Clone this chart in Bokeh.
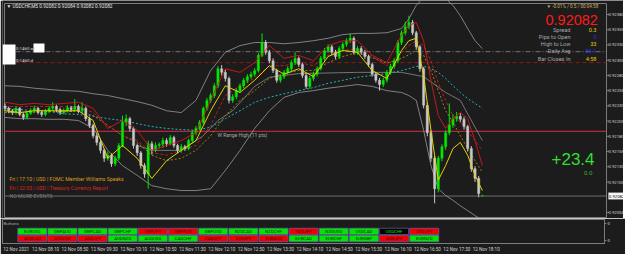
from bokeh.plotting import figure
from bokeh.models import Range1d, LinearAxis, FixedTicker, NumeralTickFormatter
from bokeh.layouts import column
from bokeh.embed import file_html
from bokeh.resources import INLINE
from bokeh.core.properties import value

# ---------------- data ----------------
symbol_title = "\u25bc USDCHF,M5  0.92082 0.92084 0.92082 0.92082"

bar_open = [0.92230,0.92226,0.92222,0.92219,0.92226,0.92216,0.92211,0.92218,0.92222,0.92226,
0.92219,0.92216,0.92221,0.92226,0.92229,0.92224,0.92219,0.92222,0.92227,0.92224,
0.92229,0.92222,0.92226,0.92209,0.92198,0.92181,0.92170,0.92157,0.92144,0.92149,
0.92135,0.92144,0.92165,0.92203,0.92209,0.92193,0.92165,0.92153,0.92132,0.92118,
0.92168,0.92158,0.92165,0.92167,0.92173,0.92168,0.92178,0.92165,0.92157,0.92163,
0.92160,0.92173,0.92186,0.92193,0.92203,0.92226,0.92239,0.92247,0.92263,0.92291,
0.92285,0.92275,0.92239,0.92245,0.92255,0.92263,0.92272,0.92278,0.92282,0.92288,
0.92313,0.92334,0.92318,0.92304,0.92288,0.92272,0.92278,0.92285,0.92291,0.92301,
0.92308,0.92298,0.92280,0.92262,0.92275,0.92282,0.92291,0.92308,0.92321,0.92327,
0.92318,0.92311,0.92324,0.92331,0.92337,0.92341,0.92318,0.92324,0.92318,0.92311,
0.92298,0.92282,0.92272,0.92265,0.92272,0.92285,0.92295,0.92304,0.92334,0.92350,
0.92360,0.92367,0.92350,0.92327,0.92291,0.92231,0.92186,0.92144,0.92094,0.92144,
0.92163,0.92186,0.92199,0.92209,0.92213,0.92208,0.92196,0.92160,0.92127,0.92111,
0.92082]
bar_high = [0.92234,0.92229,0.92225,0.92229,0.92228,0.92219,0.92221,0.92226,0.92230,0.92228,
0.92222,0.92225,0.92230,0.92236,0.92232,0.92227,0.92226,0.92231,0.92230,0.92241,
0.92232,0.92236,0.92229,0.92212,0.92201,0.92186,0.92174,0.92160,0.92155,0.92152,
0.92148,0.92169,0.92214,0.92216,0.92212,0.92196,0.92168,0.92156,0.92136,0.92173,
0.92172,0.92170,0.92170,0.92178,0.92177,0.92182,0.92181,0.92168,0.92167,0.92166,
0.92176,0.92190,0.92197,0.92207,0.92229,0.92243,0.92251,0.92267,0.92295,0.92297,
0.92289,0.92278,0.92249,0.92259,0.92267,0.92276,0.92282,0.92286,0.92292,0.92317,
0.92349,0.92338,0.92322,0.92308,0.92291,0.92282,0.92289,0.92295,0.92305,0.92318,
0.92311,0.92301,0.92284,0.92279,0.92286,0.92295,0.92312,0.92325,0.92331,0.92330,
0.92322,0.92328,0.92335,0.92341,0.92349,0.92344,0.92328,0.92328,0.92322,0.92314,
0.92301,0.92285,0.92276,0.92276,0.92289,0.92299,0.92308,0.92338,0.92354,0.92368,
0.92378,0.92371,0.92353,0.92330,0.92294,0.92235,0.92190,0.92148,0.92148,0.92167,
0.92190,0.92234,0.92216,0.92220,0.92218,0.92212,0.92199,0.92164,0.92131,0.92115,
0.92084]
bar_low = [0.92222,0.92218,0.92215,0.92216,0.92213,0.92207,0.92208,0.92215,0.92219,0.92216,
0.92212,0.92213,0.92218,0.92223,0.92220,0.92215,0.92216,0.92219,0.92220,0.92221,
0.92218,0.92219,0.92205,0.92194,0.92177,0.92165,0.92152,0.92138,0.92140,0.92130,
0.92131,0.92141,0.92162,0.92197,0.92188,0.92160,0.92148,0.92127,0.92112,0.92094,
0.92150,0.92154,0.92160,0.92161,0.92163,0.92165,0.92161,0.92152,0.92153,0.92156,
0.92157,0.92170,0.92182,0.92190,0.92200,0.92222,0.92235,0.92243,0.92259,0.92280,
0.92270,0.92234,0.92235,0.92241,0.92251,0.92259,0.92268,0.92274,0.92278,0.92285,
0.92310,0.92314,0.92300,0.92284,0.92268,0.92268,0.92274,0.92281,0.92287,0.92297,
0.92294,0.92276,0.92258,0.92258,0.92271,0.92278,0.92288,0.92304,0.92317,0.92314,
0.92307,0.92307,0.92320,0.92327,0.92333,0.92314,0.92314,0.92314,0.92307,0.92294,
0.92278,0.92268,0.92255,0.92261,0.92268,0.92281,0.92291,0.92300,0.92330,0.92346,
0.92356,0.92346,0.92322,0.92286,0.92226,0.92180,0.92138,0.92070,0.92088,0.92139,
0.92158,0.92182,0.92194,0.92204,0.92203,0.92191,0.92155,0.92122,0.92105,0.92080,
0.92082]
bar_close = [0.92226,0.92222,0.92219,0.92226,0.92216,0.92211,0.92218,0.92222,0.92226,0.92219,
0.92216,0.92221,0.92226,0.92229,0.92224,0.92219,0.92222,0.92227,0.92224,0.92229,
0.92222,0.92226,0.92209,0.92198,0.92181,0.92170,0.92157,0.92144,0.92149,0.92135,
0.92144,0.92165,0.92203,0.92209,0.92193,0.92165,0.92153,0.92132,0.92118,0.92168,
0.92158,0.92165,0.92167,0.92173,0.92168,0.92178,0.92165,0.92157,0.92163,0.92160,
0.92173,0.92186,0.92193,0.92203,0.92226,0.92239,0.92247,0.92263,0.92291,0.92285,
0.92275,0.92239,0.92245,0.92255,0.92263,0.92272,0.92278,0.92282,0.92288,0.92313,
0.92334,0.92318,0.92304,0.92288,0.92272,0.92278,0.92285,0.92291,0.92301,0.92308,
0.92298,0.92280,0.92262,0.92275,0.92282,0.92291,0.92308,0.92321,0.92327,0.92318,
0.92311,0.92324,0.92331,0.92337,0.92341,0.92318,0.92324,0.92318,0.92311,0.92298,
0.92282,0.92272,0.92265,0.92272,0.92285,0.92295,0.92304,0.92334,0.92350,0.92360,
0.92367,0.92350,0.92327,0.92291,0.92231,0.92186,0.92144,0.92094,0.92144,0.92163,
0.92186,0.92199,0.92209,0.92213,0.92208,0.92196,0.92160,0.92127,0.92111,0.92086,
0.92082]

time_tick_bars = [0, 8, 16, 24, 32, 40, 48, 56, 64, 72, 80, 88, 96, 104, 112, 120, 128]
time_tick_labels = ["12 Nov 2021", "12 Nov 08:10", "12 Nov 08:50", "12 Nov 09:30", "12 Nov 10:10",
                    "12 Nov 10:50", "12 Nov 11:30", "12 Nov 12:10", "12 Nov 12:50", "12 Nov 13:30",
                    "12 Nov 14:10", "12 Nov 14:50", "12 Nov 15:30", "12 Nov 16:10", "12 Nov 16:50",
                    "12 Nov 17:30", "12 Nov 18:10"]
price_ticks = [0.92055, 0.92105, 0.92130, 0.92155, 0.92180, 0.92205, 0.92230, 0.92255,
               0.92280, 0.92305, 0.92330, 0.92355, 0.92380]

# indicator readings (bar index, price)
ind_bars = [0, 4, 8, 12, 16, 20, 24, 28, 32, 36, 40, 44, 48, 52, 56, 60, 64, 68, 72, 76, 80, 84,
            88, 92, 96, 100, 104, 108, 110, 112, 114, 116, 118, 120, 122, 124, 126, 128, 130]
bb_upper = [0.92263,0.92262,0.92259,0.92257,0.92255,0.92254,0.92250,0.92247,0.92242,0.92237,0.92231,
            0.92222,0.92219,0.92239,0.92288,0.92318,0.92329,0.92334,0.92334,0.92332,0.92334,0.92337,
            0.92341,0.92347,0.92349,0.92349,0.92350,0.92357,0.92373,0.92395,0.92408,0.92413,0.92411,
            0.92406,0.92395,0.92378,0.92357,0.92337,0.92324]
bb_lower = [0.92211,0.92209,0.92209,0.92208,0.92208,0.92206,0.92193,0.92157,0.92132,0.92116,0.92099,
            0.92094,0.92091,0.92091,0.92094,0.92124,0.92157,0.92193,0.92222,0.92244,0.92252,0.92255,
            0.92259,0.92262,0.92265,0.92262,0.92255,0.92252,0.92247,0.92239,0.92190,0.92132,0.92094,
            0.92083,0.92075,0.92066,0.92058,0.92050,0.92042]
ma_yellow = [0.92222,0.92219,0.92222,0.92222,0.92222,0.92222,0.92206,0.92144,0.92165,0.92144,0.92111,
             0.92140,0.92157,0.92173,0.92222,0.92263,0.92252,0.92272,0.92296,0.92282,0.92291,0.92278,
             0.92311,0.92321,0.92318,0.92288,0.92275,0.92321,0.92337,0.92341,0.92280,0.92190,0.92108,
             0.92132,0.92160,0.92170,0.92149,0.92116,0.92091]
ma_red = [0.92236,0.92232,0.92234,0.92232,0.92234,0.92236,0.92226,0.92193,0.92206,0.92190,0.92157,
          0.92165,0.92173,0.92186,0.92239,0.92291,0.92285,0.92301,0.92329,0.92308,0.92313,0.92304,
          0.92329,0.92337,0.92337,0.92313,0.92301,0.92346,0.92362,0.92367,0.92337,0.92272,0.92214,
          0.92193,0.92209,0.92219,0.92209,0.92173,0.92132]
ma_red_dot = [0.92229,0.92229,0.92229,0.92229,0.92229,0.92229,0.92219,0.92198,0.92181,0.92173,0.92153,
              0.92149,0.92157,0.92165,0.92198,0.92247,0.92263,0.92275,0.92296,0.92296,0.92301,0.92296,
              0.92313,0.92321,0.92324,0.92311,0.92296,0.92318,0.92329,0.92337,0.92329,0.92304,0.92268,
              0.92239,0.92214,0.92203,0.92190,0.92173,0.92157]
ma_orange = [0.92219,0.92219,0.92219,0.92221,0.92221,0.92221,0.92214,0.92198,0.92181,0.92170,0.92149,
             0.92140,0.92144,0.92157,0.92181,0.92214,0.92239,0.92255,0.92275,0.92283,0.92288,0.92288,
             0.92301,0.92311,0.92318,0.92309,0.92300,0.92308,0.92314,0.92321,0.92313,0.92288,0.92255,
             0.92222,0.92203,0.92181,0.92160,0.92140,0.92121]
ma_cyan = [0.92226,0.92224,0.92222,0.92221,0.92217,0.92216,0.92213,0.92209,0.92206,0.92201,0.92196,
           0.92193,0.92191,0.92190,0.92195,0.92209,0.92222,0.92236,0.92244,0.92250,0.92255,0.92260,
           0.92267,0.92272,0.92277,0.92280,0.92283,0.92288,0.92291,0.92295,0.92295,0.92291,0.92285,
           0.92275,0.92263,0.92252,0.92242,0.92234,0.92226]
# second (inner) grey band line, read on its own bars
inner_bars = [36, 40, 48, 54, 58, 62, 68, 72, 80, 96, 108, 114, 120, 124, 130]
inner_band = [0.92165, 0.92157, 0.92157, 0.92181, 0.92206, 0.92222, 0.92262, 0.92277, 0.92283,
              0.92285, 0.92285, 0.92278, 0.92252, 0.92239, 0.92173]

level_daily_avg = 0.92319
level_red_dash = 0.92301
level_w_range = 0.92188
bid_price = 0.92082

info_labels = ["Spread", "Pips to Open", "High to Low", "Daily Avg", "Bar Closes In"]
info_values = ["0.3", "3", "33", "56.1", "4:58"]
info_kinds = ["y", "b", "y", "b", "y"]

news_lines = ["Fri | 17:10 | USD | FOMC Member Williams Speaks",
              "Fri | 22:03 | USD | Treasury Currency Report",
              "NO MORE EVENTS"]

top_pairs = ["EURUSD","GBPAUD","GBPCAD","GBPCHF","GBPJPY","GBPNZD","GBPUSD",
             "NZDCAD","NZDCHF","NZDJPY","NZDUSD","USDCAD","USDCHF","USDJPY"]
top_state = ["up","up","up","up","dn","dn","up","up","up","dn","up","up","sel","dn"]
bottom_pairs = ["AUDCAD","AUDCHF","AUDJPY","AUDNZD","AUDUSD","CADCHF","CADJPY",
                "CHFJPY","EURAUD","EURCAD","EURCHF","EURGBP","EURJPY","EURNZD"]
bottom_state = ["dn","dn","dn","up","up","up","dn","dn","dn","up","up","up","dn","up"]

# ---------------- style / layout ----------------
BG = "#1c1c1c"
FRAME = "#7c7c7c"
BULL = "#00e800"
BEAR = "#c8c8c8"
FONT = value("Roboto")
W = 625
MAIN_FW = 623              # main frame width (covers chart window + price scale)
MAIN_H = 218
FL, FR = 2, 604            # chart window left/right (page px)
MT, MB = 3, 217            # chart window top/bottom (page px)
ST, SB = 219, 244          # sub window top/bottom (page px)
SPACE = 3.672              # px per bar
X0 = 2.5                   # px of bar 0
PX_PER_PRICE = 15.23 / 0.00025
Y_REF, P_REF = 14.0, 0.92380   # a price-scale anchor
LABEL_SHIFT = 3.6          # bars: centred time label sits right of its bar
PRICE_LABEL_X = 606        # page px where price labels start
STANDOFF = -17
SCALE_FONT = "4.2px"


def bar_at(px):
    return (px - X0) / SPACE


def price_at(py):
    return P_REF - (py - Y_REF) / PX_PER_PRICE


# main window: frame covers chart + price scale; the scale is drawn at a fixed location
p = figure(frame_width=MAIN_FW, frame_height=MAIN_H, x_range=Range1d(bar_at(0), bar_at(MAIN_FW)),
           y_range=Range1d(price_at(MAIN_H), price_at(0)),
           x_axis_location=None, y_axis_location=None, toolbar_location=None,
           output_backend="svg", min_border=0,
           background_fill_color=BG, border_fill_color=BG, outline_line_color=None)
p.xgrid.grid_line_color = None
p.ygrid.grid_line_color = None
p.extra_x_ranges = {"px": Range1d(0, MAIN_FW)}
p.extra_y_ranges = {"py": Range1d(MAIN_H, 0)}

yax = LinearAxis(ticker=FixedTicker(ticks=price_ticks), formatter=NumeralTickFormatter(format="0.00000"),
                 fixed_location=bar_at(PRICE_LABEL_X - 2 - STANDOFF))
yax.axis_line_color = None
yax.major_tick_line_color = None
yax.major_tick_out = 2
yax.major_tick_in = 0
yax.minor_tick_line_color = None
yax.major_label_text_color = "#d4d4d4"
yax.major_label_text_font = "Roboto"
yax.major_label_text_font_size = SCALE_FONT
yax.major_label_standoff = STANDOFF
p.add_layout(yax, "right")

# window border (top, bottom, left, right) and price-scale tick marks
p.segment(x0=[FL, FL, FL, FR], x1=[FR, FR, FL, FR], y0=[MT, MB, MT, MT], y1=[MT, MB, MB, MB],
          x_range_name="px", y_range_name="py", line_color=FRAME, line_width=1)
p.segment(x0=[FR] * len(price_ticks), x1=[FR + 2.5] * len(price_ticks), y0=price_ticks, y1=price_ticks,
          x_range_name="px", line_color=FRAME, line_width=1)

# horizontal levels
p.segment(x0=[13], x1=[FR], y0=[level_daily_avg], y1=[level_daily_avg], x_range_name="px",
          line_color="#8a8a8a", line_width=0.8, line_dash="5 2 1 2")
p.segment(x0=[13], x1=[FR], y0=[level_red_dash], y1=[level_red_dash], x_range_name="px",
          line_color="#8b1a1a", line_width=1, line_dash="4 3")
p.segment(x0=[FL], x1=[FR], y0=[level_w_range], y1=[level_w_range], x_range_name="px",
          line_color="#b0283c", line_width=1.3)
p.segment(x0=[FL], x1=[FR], y0=[bid_price], y1=[bid_price], x_range_name="px",
          line_color="#6e6e6e", line_width=1)

# indicators
p.line(ind_bars, bb_upper, line_color="#9a9a9a", line_width=0.8)
p.line(ind_bars, bb_lower, line_color="#9a9a9a", line_width=0.8)
p.line(inner_bars, inner_band, line_color="#8a8a8a", line_width=0.8)
p.line(ind_bars, ma_cyan, line_color="#1fb5c0", line_width=1, line_dash="2 2")
p.line(ind_bars, ma_orange, line_color="#b8860b", line_width=0.9, line_dash="2 2")
p.line(ind_bars, ma_red_dot, line_color="#c81e1e", line_width=0.9, line_dash="3 2")

# candles
n = len(bar_close)
up = [i for i in range(n) if bar_close[i] >= bar_open[i]]
dn = [i for i in range(n) if bar_close[i] < bar_open[i]]
for ids, col in ((dn, BEAR), (up, BULL)):
    p.segment(x0=ids, x1=ids, y0=[bar_low[i] for i in ids], y1=[bar_high[i] for i in ids],
              line_color=col, line_width=1)
    p.vbar(x=ids, width=0.62, top=[max(bar_open[i], bar_close[i]) for i in ids],
           bottom=[min(bar_open[i], bar_close[i]) for i in ids],
           fill_color=col, line_color=col, line_width=0.4)

p.line(ind_bars, ma_yellow, line_color="#e6d200", line_width=1)
p.line(ind_bars, ma_red, line_color="#d81818", line_width=0.9)


# chrome texts (page pixel coordinates)
def txt(fig, x, y, t, color, size, align="left", baseline="middle", font=FONT, style="normal"):
    fig.text(x=[x], y=[y], text=[t], text_color=color, text_font_size=size, text_font=font,
             text_align=align, text_baseline=baseline, text_font_style=style,
             x_range_name="px", y_range_name="py")


txt(p, 4, 5.5, symbol_title, "#e6e6e6", "4.8px")
p.quad(left=[0, 31], right=[13, 42], top=[44, 43], bottom=[64, 52], fill_color="white",
       line_color=None, x_range_name="px", y_range_name="py")
txt(p, 13.5, 48, "0:1460 ad", "#dcdcdc", "4.4px")
txt(p, 13.5, 60, "0:1460 d", "#dcdcdc", "4.4px")
txt(p, 215, 134.5, "W Range High (11 pts)", "#a8a8a8", "5px")

txt(p, 544, 6, "\u25bc -0.01% / 0.5 / 00:04:58", "#d6b35c", "4.6px")
txt(p, 543, 19.5, "0.92082", "#ff1a1a", "14.5px", font=value("Liberation Sans"))
for k, (lab, val, kind) in enumerate(zip(info_labels, info_values, info_kinds)):
    yy = 29 + 7.3 * k
    txt(p, 568, yy, lab, "#a8a8a8", "5.6px", align="right")
    txt(p, 594, yy, val, "#e8c800" if kind == "y" else "#2a2aff", "5.6px", align="right")

txt(p, 549, 158.5, "+23.4", "#33dd33", "17px", font=value("Liberation Sans"))
txt(p, 590, 172.5, "0.0", "#3aa83a", "6.2px", align="right")

txt(p, 7, 178.5, news_lines[0], "#dc9a1e", "5.2px")
txt(p, 7, 187, news_lines[1], "#d82424", "5.2px")
txt(p, 7, 195.5, news_lines[2], "#7a7a7a", "5.2px")

# current price tag on the price scale
p.rect(x=[614.5], y=[bid_price], width=17, height=6.5, height_units="screen",
       x_range_name="px", fill_color="white", line_color="#b0b0b0", line_width=0.5)
p.text(x=[PRICE_LABEL_X + 0.5], y=[bid_price], text=["0.92082"], text_color="black",
       text_font_size=SCALE_FONT, text_font=FONT, text_align="left", text_baseline="middle",
       x_range_name="px")

# ---------------- sub window (Buttons) ----------------
SUB_H = 254 - MAIN_H
sub = figure(width=W, height=SUB_H, x_range=Range1d(bar_at(FL), bar_at(FR)), y_range=Range1d(0, 1),
             x_axis_location=None, y_axis_location=None, toolbar_location=None,
             output_backend="svg", min_border_left=FL, min_border_right=W - FR,
             min_border_top=ST - MAIN_H, min_border_bottom=254 - SB,
             background_fill_color=BG, border_fill_color=BG, outline_line_color=FRAME)
sub.xgrid.grid_line_color = None
sub.ygrid.grid_line_color = None
sub.extra_x_ranges = {"px": Range1d(FL, FR)}
sub.extra_y_ranges = {"py": Range1d(SB, ST)}

label_pos = [b + LABEL_SHIFT for b in time_tick_bars]
xax = LinearAxis(ticker=FixedTicker(ticks=label_pos),
                 major_label_overrides={b: l for b, l in zip(label_pos, time_tick_labels)})
xax.axis_line_color = None
xax.major_tick_line_color = None
xax.major_tick_out = 2
xax.major_tick_in = 0
xax.minor_tick_line_color = None
xax.major_label_text_color = "#d4d4d4"
xax.major_label_text_font = "Roboto"
xax.major_label_text_font_size = "4.6px"
xax.major_label_standoff = 1
sub.add_layout(xax, "below")

sax = LinearAxis(ticker=FixedTicker(ticks=[0.12, 0.84]), major_label_overrides={0.12: "0", 0.84: "0"})
sax.axis_line_color = FRAME
sax.major_tick_line_color = FRAME
sax.major_tick_out = 2
sax.major_tick_in = 0
sax.minor_tick_line_color = None
sax.major_label_text_color = "#d4d4d4"
sax.major_label_text_font = "Roboto"
sax.major_label_text_font_size = SCALE_FONT
sax.major_label_standoff = 1
sub.add_layout(sax, "right")

txt(sub, 3, 223, "Buttons", "#a8a8a8", "4.4px")
BX0, BSTEP, BW = 17.3, 30.15, 29.0
fills = {"up": "#00e600", "dn": "#f00000", "sel": "#000000"}
tcol = {"up": "#0a2a0a", "dn": "#4a0000", "sel": "#00e600"}
for pairs, states, yc in ((top_pairs, top_state, 231.4), (bottom_pairs, bottom_state, 238.8)):
    xs = [BX0 + BW / 2 + BSTEP * k for k in range(len(pairs))]
    sub.rect(x=xs, y=[yc] * len(xs), width=BW, height=6.6, fill_color=[fills[s] for s in states],
             line_color="#6c5fb0", line_width=0.7, x_range_name="px", y_range_name="py")
    sub.text(x=xs, y=[yc] * len(xs), text=pairs, text_color=[tcol[s] for s in states],
             text_font_size="4.4px", text_font=FONT, text_align="center", text_baseline="middle",
             x_range_name="px", y_range_name="py")

layout = column(p, sub)
open("out.html", "w").write(file_html(layout, INLINE))
